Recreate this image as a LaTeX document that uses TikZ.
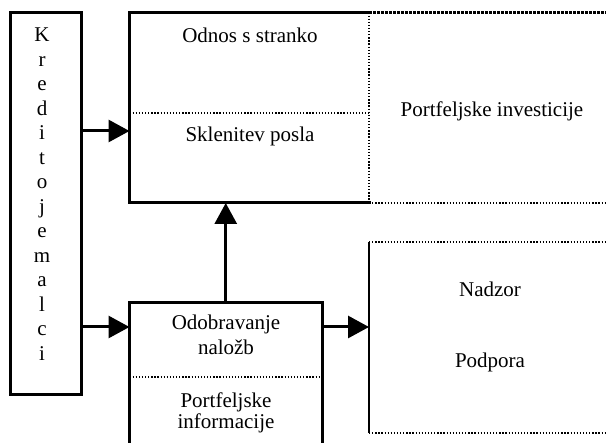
\documentclass[tikz,border=0pt]{standalone}
\usepackage{fontspec}
\setmainfont{Liberation Serif}
\usetikzlibrary{arrows.meta}
\begin{document}
\begin{tikzpicture}[x=1pt,y=-1pt,
  txt/.style={font=\fontsize{21}{25}\selectfont, inner sep=0pt, anchor=base},
  region/.style={inner sep=0pt, outer sep=0pt, draw=none},
  solidline/.style={line width=3pt, line cap=rect},
  thinsolid/.style={line width=1.6pt},
  dotline/.style={line width=1.3pt, dash pattern=on 1.3pt off 1.8pt},
  thickdot/.style={line width=2.4pt, dash pattern=on 3pt off 1pt},
  arr/.style={line width=3pt, -{Triangle[length=21pt,width=22pt]}}]
\useasboundingbox (0,0) rectangle (606,443);
\fill[white] (0,0) rectangle (606,443);
% regions
\node[region, minimum width=71.5pt, minimum height=382.5pt] (kred) at (46,203.75) {};
\node[region, minimum width=239.5pt, minimum height=190.5pt] (odnos) at (249.25,107.75) {};
\node[region, minimum width=192.5pt, minimum height=150pt] (odob) at (225.75,378) {};
\node[region, minimum width=241pt, minimum height=190.5pt] (portinv) at (489.5,107.75) {};
\node[region, minimum width=241pt, minimum height=191pt] (nad) at (489.5,337.5) {};
% borders
\draw[solidline] (kred.north west) rectangle (kred.south east);
\draw[solidline] (odnos.north east) -- (odnos.north west) -- (odnos.south west) -- (odnos.south east);
\draw[dotline] (odnos.north east) -- (odnos.south east);
\coordinate (d1) at (0,113);
\draw[dotline] (odnos.west |- d1) -- (odnos.east |- d1);
\draw[thickdot] (portinv.north west) -- (portinv.north east);
\draw[dotline] (portinv.south west) -- (portinv.south east);
\draw[solidline] (odob.south west) -- (odob.north west) -- (odob.north east) -- (odob.south east);
\coordinate (d2) at (0,377);
\draw[dotline] (odob.west |- d2) -- (odob.east |- d2);
\draw[thinsolid] (nad.north west) -- (nad.south west);
\draw[dotline] (nad.north west) -- (nad.north east);
\draw[dotline] (nad.south west) -- (nad.south east);
% texts
\foreach \l [count=\i from 0] in {K,r,e,d,i,t,o,j,e,m,a,l,c,i}
  \node[txt] (k\i) at (42,{42+24.5*\i}) {\l};
\node[txt] (t1) at (250,43) {Odnos s stranko};
\node[txt] (t2) at (250,142) {Sklenitev posla};
\node[txt] (t3) at (492,117) {Portfeljske investicije};
\node[txt] (t4) at (226,330) {Odobravanje};
\node[txt] (t5) at (226,355) {naložb};
\node[txt] (t6) at (226,408) {Portfeljske};
\node[txt] (t7) at (226,429) {informacije};
\node[txt] (t8) at (490,297) {Nadzor};
\node[txt] (t9) at (490,368) {Podpora};
% arrows
\coordinate (a1) at (0,131);
\coordinate (a2) at (0,327);
\draw[arr] (kred.east |- a1) -- (odnos.west |- a1);
\draw[arr] (kred.east |- a2) -- (odob.west |- a2);
\draw[arr] (odob.east |- a2) -- (nad.west |- a2);
\draw[arr] (odob.north) -- (odob.north |- odnos.south);
\end{tikzpicture}
\end{document}
